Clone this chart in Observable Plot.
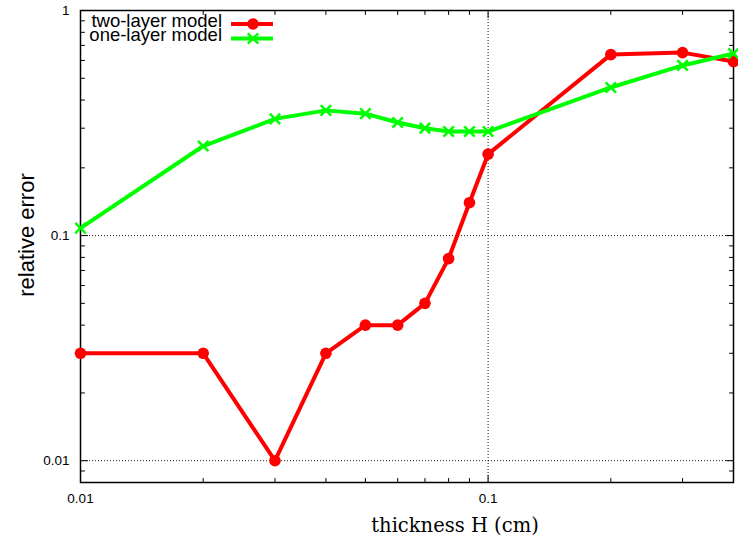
<!DOCTYPE html>
<html><head><meta charset="utf-8">
<script src="https://cdn.jsdelivr.net/npm/d3@7"></script>
<script src="https://cdn.jsdelivr.net/npm/@observablehq/plot@0.6"></script>
<style>body{margin:0;background:#fff} #chart{width:738px;height:541px}</style>
</head><body><div id="chart"></div>
<script>
// ---- data ----
const thickness = [0.01,0.02,0.03,0.04,0.05,0.06,0.07,0.08,0.09,0.1,0.2,0.3,0.4];
const twoLayer  = [0.03,0.03,0.01,0.03,0.04,0.04,0.05,0.079,0.14,0.23,0.637,0.65,0.593];
const oneLayer  = [0.108,0.25,0.33,0.36,0.348,0.318,0.30,0.29,0.29,0.29,0.455,0.57,0.644];
const seriesNames = ["two-layer model","one-layer model"];
const xMajor = [0.01, 0.1];
const xMinor = [0.02,0.03,0.04,0.05,0.06,0.07,0.08,0.09,0.2,0.3,0.4];
const yMajor = [0.01, 0.1, 1];
const yMinor = [0.008,0.009,0.02,0.03,0.04,0.05,0.06,0.07,0.08,0.09,0.2,0.3,0.4,0.5,0.6,0.7,0.8,0.9];
const xTitle = "thickness H (cm)";
const yTitle = "relative error";

const red = thickness.map((x,i)=>({x, y: twoLayer[i]}));
const green = thickness.map((x,i)=>({x, y: oneLayer[i]}));

const tickShape = {draw(ctx, l){ctx.moveTo(0,0); ctx.lineTo(0,-l);}};
function inward(vals, side, len){
  const o = {shape: tickShape, anchor:"start", length: len, stroke:"#000", strokeWidth:1};
  if (side==="bottom") return Plot.vectorX(vals, {...o, frameAnchor:"bottom", rotate:0});
  if (side==="top") return Plot.vectorX(vals, {...o, frameAnchor:"top", rotate:180});
  if (side==="left") return Plot.vectorY(vals, {...o, frameAnchor:"left", rotate:90});
  return Plot.vectorY(vals, {...o, frameAnchor:"right", rotate:-90});
}
const fmt = d => String(d);

const svg = Plot.plot({
  width: 738, height: 541,
  marginLeft: 80, marginRight: 5, marginTop: 10, marginBottom: 59,
  style: {fontFamily: "'Liberation Sans', Arial, sans-serif", fontSize: "13.5px", background: "#fff"},
  x: {type: "log", domain: [0.01, 0.4]},
  y: {type: "log", domain: [0.008, 1]},
  marks: [
    Plot.gridX([0.1], {stroke:"#000", strokeOpacity:0.9, strokeDasharray:"1,2", strokeWidth:1}),
    Plot.gridY([0.01, 0.1], {stroke:"#000", strokeOpacity:0.9, strokeDasharray:"1,2", strokeWidth:1}),
    Plot.axisX(xMajor, {tickSize:0, tickPadding:11, tickFormat: fmt, fontSize:13.5, label:null}),
    Plot.axisY(yMajor, {tickSize:0, tickPadding:11, tickFormat: fmt, fontSize:13.5, label:null}),
    inward(xMajor,"bottom",7), inward(xMinor,"bottom",4),
    inward(xMajor,"top",7), inward(xMinor,"top",4),
    inward(yMajor,"left",7), inward(yMinor,"left",4),
    inward(yMajor,"right",7), inward(yMinor,"right",4),
    Plot.frame({stroke:"#000", strokeWidth:1.5}),
    Plot.line(red, {x:"x", y:"y", stroke:"#ff0000", strokeWidth:4}),
    Plot.dot(red, {x:"x", y:"y", fill:"#ff0000", r:5.8}),
    Plot.line(green, {x:"x", y:"y", stroke:"#00ff00", strokeWidth:4}),
    Plot.dot(green, {x:"x", y:"y", symbol:"times", stroke:"#00ff00", strokeWidth:2.5, r:4.8})
  ]
});
document.getElementById("chart").appendChild(svg);

const s = d3.select(svg);
// enforce tick label size
s.selectAll("g[aria-label='x-axis tick label'], g[aria-label='y-axis tick label']")
  .attr("font-size", 13.5).style("font-size", "13.5px");
s.selectAll("g[aria-label='x-axis tick label'] text, g[aria-label='y-axis tick label'] text")
  .style("font-size", "13.5px");

// axis titles and legend
s.append("text").attr("x", 455).attr("y", 532).attr("text-anchor","middle")
  .style("font-family","'DejaVu Serif', serif").style("font-size","19.5px").attr("fill","#000").text(xTitle);
s.append("text").attr("transform","translate(34,235) rotate(-90)").attr("text-anchor","middle")
  .style("font-family","'Liberation Sans', Arial, sans-serif").style("font-size","22px").attr("fill","#000").text(yTitle);

const lg = s.append("g").style("font-family","'Liberation Sans', Arial, sans-serif").style("font-size","18.5px");
lg.append("text").attr("x",222).attr("y",26.5).attr("text-anchor","end").attr("fill","#000").text(seriesNames[0]);
lg.append("text").attr("x",222).attr("y",41).attr("text-anchor","end").attr("fill","#000").text(seriesNames[1]);
lg.append("line").attr("x1",231).attr("x2",273).attr("y1",24).attr("y2",24).attr("stroke","#ff0000").attr("stroke-width",4);
lg.append("circle").attr("cx",253).attr("cy",24).attr("r",5.8).attr("fill","#ff0000");
lg.append("line").attr("x1",231).attr("x2",273).attr("y1",38.5).attr("y2",38.5).attr("stroke","#00ff00").attr("stroke-width",4);
lg.append("path").attr("transform","translate(253,38.5)").attr("d", d3.symbol(d3.symbolTimes, Math.PI*4.8*4.8)())
  .attr("stroke","#00ff00").attr("stroke-width",2.5).attr("fill","none");
</script>
</body></html>
